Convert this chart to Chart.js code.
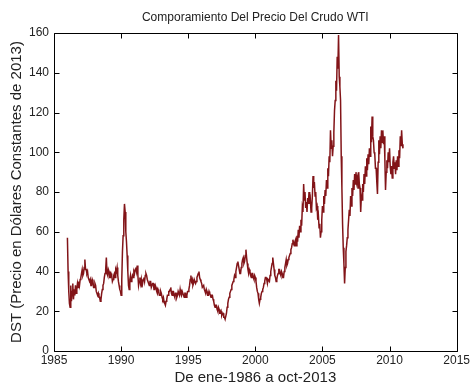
<!DOCTYPE html>
<html>
<head>
<meta charset="utf-8">
<script src="https://cdn.jsdelivr.net/npm/chart.js@4.4.1/dist/chart.umd.min.js"></script>
<style>
  html, body { margin: 0; padding: 0; background: #ffffff; }
  #wrap { width: 472px; height: 387px; }
</style>
</head>
<body>
<div id="wrap"><canvas id="c" width="472" height="387"></canvas></div>
<script>
// WTI crude price in constant 2013 dollars, sampled every 0.05 year on the axis
const SERIES_START = 1986;
const SERIES_STEP = 0.05;

const wti1986to1990 = [
  57, 40, 30, 24, 22, 33, 25, 30, 34, 26, 31, 28, 33, 29, 31, 34, 32, 35, 33, 36,
  37, 39, 41, 38, 39, 42, 46, 41, 41, 39, 40, 37, 37, 35, 36, 33, 33, 36, 35, 32,
  32, 34, 33, 30, 30, 28, 29, 27, 27, 25, 26, 29, 31, 33, 34, 37, 39, 41, 47, 39,
  38, 41, 40, 37, 37, 39, 38, 35, 36, 38, 39, 37, 41, 40, 42, 38, 35, 33, 31, 30,
  28, 36, 50, 58, 66, 74, 70, 60, 55, 48, 40, 33, 31, 36, 38, 35, 36, 38, 37, 40
];
const wti1991to1995 = [
  39, 41, 42, 40, 43, 38, 33, 35, 37, 34, 36, 32, 34, 36, 37, 35, 38, 39, 38, 36,
  36, 34, 33, 35, 35, 32, 32, 34, 34, 31, 31, 33, 32, 30, 29, 31, 30, 28, 28, 30,
  29, 27, 26, 27, 25, 24, 23, 25, 26, 28, 28, 30, 30, 31, 32, 29, 28, 30, 30, 28,
  27, 29, 29, 27, 28, 30, 30, 28, 31, 29, 28, 30, 30, 28, 27, 29, 29, 27, 28, 30,
  30, 31, 33, 36, 38, 35, 36, 33, 34, 36, 36, 34, 35, 37, 38, 39, 40, 37, 36, 35
];
const wti1996to2000 = [
  34, 32, 32, 33, 31, 30, 29, 31, 30, 28, 28, 30, 29, 28, 27, 28, 28, 26, 25, 23,
  22, 23, 23, 21, 20, 22, 21, 19, 19, 20, 18, 19, 19, 17, 17, 16, 16, 19, 22, 24,
  26, 27, 29, 30, 31, 33, 34, 35, 36, 38, 37, 40, 42, 44, 45, 43, 41, 39, 39, 42,
  44, 46, 47, 44, 45, 48, 51, 47, 44, 41, 39, 41, 40, 38, 37, 39, 39, 37, 36, 38,
  37, 35, 32, 30, 29, 26, 24, 26, 27, 29, 30, 31, 32, 34, 35, 37, 37, 36, 34, 36
];
const wti2001to2005 = [
  36, 35, 38, 40, 42, 44, 47, 44, 41, 38, 37, 35, 36, 38, 39, 41, 41, 39, 38, 40,
  39, 37, 37, 40, 42, 44, 46, 43, 44, 46, 47, 48, 49, 51, 52, 54, 56, 54, 53, 55,
  56, 53, 58, 55, 61, 57, 63, 60, 66, 63, 72, 70, 84, 76, 80, 72, 75, 70, 77, 74,
  80, 74, 76, 70, 72, 78, 88, 82, 85, 78, 80, 72, 73, 66, 68, 62, 64, 57, 60, 66,
  73, 70, 78, 74, 81, 78, 86, 82, 92, 88, 98, 95, 111, 102, 106, 98, 103, 110, 121, 126
];
const wti2006to2011 = [
  136, 131, 148, 142, 159, 138, 133, 126, 98, 82, 64, 52, 44, 34, 42, 50, 53, 57, 61, 66,
  71, 68, 78, 73, 82, 78, 86, 81, 89, 84, 90, 85, 87, 82, 90, 84, 82, 70, 78, 76,
  84, 80, 89, 84, 93, 88, 97, 91, 99, 94, 102, 98, 113, 105, 118, 108, 106, 100, 99, 92,
  92, 85, 79, 95, 106, 99, 108, 102, 111, 105, 111, 104, 108, 97, 81, 90, 96, 92, 100, 95,
  102, 93, 89, 93, 87, 95, 98, 92, 95, 89, 96, 91, 98, 93, 101, 97, 108, 103, 111, 104,
  102
];

const xTickValues = [1985, 1990, 1995, 2000, 2005, 2010, 2015];
const yTickValues = [0, 20, 40, 60, 80, 100, 120, 140, 160];

const chartTitle = 'Comporamiento Del Precio Del Crudo WTI';
const xAxisTitle = 'De ene-1986 a oct-2013';
const yAxisTitle = 'DST (Precio en Dólares Constantes de 2013)';

const FONT = '"Liberation Sans", Arial, Helvetica, sans-serif';
const LINE_COLOR = '#821418';

const values = [].concat(wti1986to1990, wti1991to1995, wti1996to2000, wti2001to2005, wti2006to2011);
const points = values.map((v, i) => ({ x: SERIES_START + i * SERIES_STEP, y: v }));

// Title centred over the plot area, plus inward tick marks and the axes box
const frame = {
  id: 'frame',
  afterDraw(chart) {
    const { ctx, chartArea: { left, right, top, bottom }, scales: { x, y } } = chart;
    const L = Math.round(left) + 0.5, R = Math.round(right) + 0.5;
    const T = Math.round(top) + 0.5, B = Math.round(bottom) + 0.5;
    const len = 5;
    ctx.save();
    ctx.strokeStyle = '#000';
    ctx.lineWidth = 1;
    ctx.beginPath();
    x.ticks.forEach(t => {
      const px = Math.round(x.getPixelForValue(t.value)) + 0.5;
      ctx.moveTo(px, B); ctx.lineTo(px, B - len);
      ctx.moveTo(px, T); ctx.lineTo(px, T + len);
    });
    y.ticks.forEach(t => {
      const py = Math.round(y.getPixelForValue(t.value)) + 0.5;
      ctx.moveTo(L, py); ctx.lineTo(L + len, py);
      ctx.moveTo(R, py); ctx.lineTo(R - len, py);
    });
    ctx.rect(L, T, R - L, B - T);
    ctx.stroke();

    ctx.fillStyle = '#222';
    ctx.font = '12px ' + FONT;
    ctx.textAlign = 'center';
    ctx.textBaseline = 'middle';
    ctx.fillText(chartTitle, (left + right) / 2, 18);
    ctx.restore();
  }
};

new Chart(document.getElementById('c'), {
  type: 'line',
  data: {
    datasets: [{
      data: points,
      borderColor: LINE_COLOR,
      borderWidth: 1.5,
      pointRadius: 0,
      tension: 0,
      fill: false
    }]
  },
  options: {
    responsive: false,
    animation: false,
    devicePixelRatio: 1,
    parsing: false,
    layout: { padding: { top: 33, right: 12, left: 0, bottom: 0 } },
    plugins: { legend: { display: false }, tooltip: { enabled: false }, title: { display: false } },
    scales: {
      x: {
        type: 'linear',
        min: 1985,
        max: 2015,
        afterBuildTicks(scale) { scale.ticks = xTickValues.map(v => ({ value: v })); },
        afterFit(scale) { scale.height = 36; },
        grid: { display: false, drawTicks: false },
        border: { display: false },
        ticks: {
          autoSkip: false,
          maxRotation: 0,
          padding: 2,
          color: '#222',
          font: { family: FONT, size: 12 },
          callback: v => String(v)
        },
        title: {
          display: true,
          text: xAxisTitle,
          color: '#222',
          font: { family: FONT, size: 15 },
          padding: { top: 0, bottom: 0 }
        }
      },
      y: {
        type: 'linear',
        min: 0,
        max: 160,
        afterBuildTicks(scale) { scale.ticks = yTickValues.map(v => ({ value: v })); },
        afterFit(scale) { scale.width = 54; },
        grid: { display: false, drawTicks: false },
        border: { display: false },
        ticks: {
          padding: 5,
          color: '#222',
          font: { family: FONT, size: 12 },
          callback: v => String(v)
        },
        title: {
          display: true,
          text: yAxisTitle,
          color: '#222',
          font: { family: FONT, size: 15 },
          padding: { top: 8, bottom: 0 }
        }
      }
    }
  },
  plugins: [frame]
});
</script>
</body>
</html>
